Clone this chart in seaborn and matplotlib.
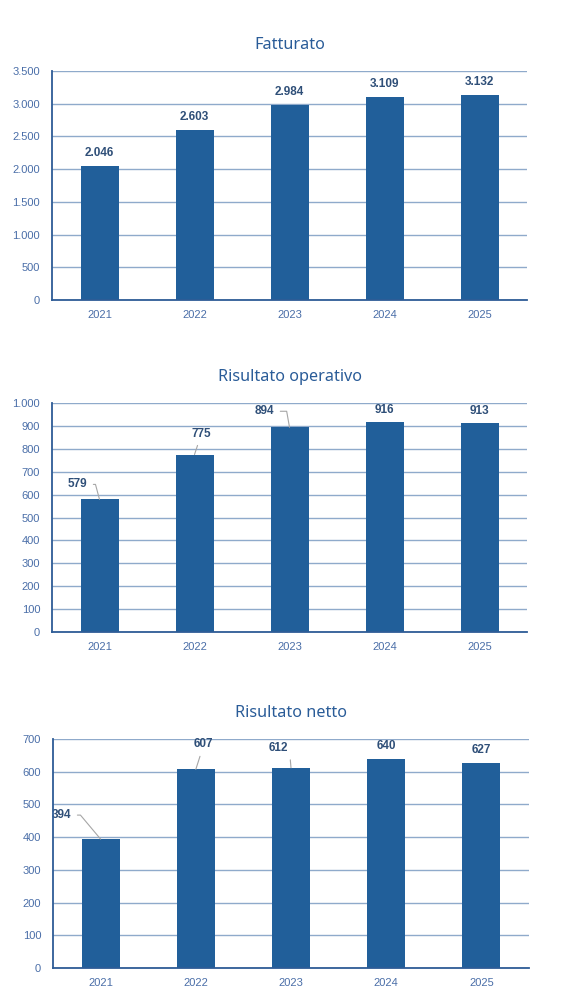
import matplotlib
matplotlib.use("Agg")
import matplotlib.pyplot as plt
import seaborn as sns
from matplotlib.ticker import FuncFormatter

YEARS = ["2021", "2022", "2023", "2024", "2025"]
FATTURATO = [2046, 2603, 2984, 3109, 3132]
RIS_OPERATIVO = [579, 775, 894, 916, 913]
RIS_NETTO = [394, 607, 612, 640, 627]

BAR = "#215F9A"
GRID = "#8FAACB"
SPINE = "#2E5C96"
TICK_TXT = "#4A6EA8"
LABEL_TXT = "#2F4F78"
TITLE_TXT = "#2A5C98"
LEADER = "#A6A6A6"

sns.set_theme(style="white")
plt.rcParams["font.family"] = ["Liberation Sans", "DejaVu Sans"]


def it_fmt(v, _):
    return f"{int(v):,}".replace(",", ".")


def draw(ax, values, title, ymax, step, labels):
    sns.barplot(x=YEARS, y=values, color=BAR, width=0.4, saturation=1,
                linewidth=0, ax=ax, zorder=3)
    ax.set_xlim(-0.5, 4.5)
    ax.set_ylim(0, ymax)
    ax.set_yticks(range(0, ymax + 1, step))
    ax.yaxis.set_major_formatter(FuncFormatter(it_fmt))
    ax.grid(axis="y", color=GRID, linewidth=1, zorder=0)
    ax.set_axisbelow(True)
    for s in ["top", "right"]:
        ax.spines[s].set_visible(False)
    for s in ["left", "bottom"]:
        ax.spines[s].set_color(SPINE)
        ax.spines[s].set_linewidth(1.3)
        ax.spines[s].set_zorder(4)
    ax.tick_params(axis="y", length=0, labelsize=8, labelcolor=TICK_TXT, pad=8.5)
    ax.tick_params(axis="x", which="major", length=0, labelsize=8, labelcolor=TICK_TXT, pad=7)
    ax.set_xticks([i - 0.5 for i in range(6)], minor=True)
    ax.tick_params(axis="x", which="minor", length=4, width=1, color=SPINE, direction="out")
    ax.set_xlabel("")
    ax.set_ylabel("")
    ax.set_title(title, fontsize=11.7, color=TITLE_TXT, family=["Noto Sans", "DejaVu Sans"], pad=16)

    for i, v in enumerate(values):
        txt = f"{v:,}".replace(",", ".")
        dx, dy, conn = labels[i]
        kw = dict(xy=(i, v), xytext=(dx, dy), textcoords="offset pixels",
                  ha="center", va="center", fontsize=8.5, fontweight="bold",
                  color=LABEL_TXT)
        if conn is not None:
            kw["arrowprops"] = dict(arrowstyle="-", color=LEADER, lw=0.8,
                                    shrinkA=2, shrinkB=0, connectionstyle=conn)
        ax.annotate(txt, **kw)


fig = plt.figure(figsize=(5.79, 10.06), dpi=100)

ax1 = fig.add_axes([52 / 579, 1 - 300 / 1006, 475 / 579, 229 / 1006])
draw(ax1, FATTURATO, "Fatturato", 3500, 500,
     [(0, 13, None), (0, 13, None), (0, 13, None), (0, 13, None), (0, 13, None)])

ax2 = fig.add_axes([52 / 579, 1 - 632 / 1006, 475 / 579, 229 / 1006])
draw(ax2, RIS_OPERATIVO, "Risultato operativo", 1000, 100,
     [(-22, 15, "angle,angleA=0,angleB=105,rad=0"),
      (7, 21, "arc3"),
      (-25, 16, "angle,angleA=0,angleB=100,rad=0"),
      (0, 12, None), (0, 12, None)])

ax3 = fig.add_axes([53 / 579, 1 - 968 / 1006, 476 / 579, 229 / 1006])
draw(ax3, RIS_NETTO, "Risultato netto", 700, 100,
     [(-39, 24, "angle,angleA=0,angleB=130,rad=0"),
      (8, 25, "arc3"),
      (-13, 20, "angle,angleA=0,angleB=95,rad=0"),
      (0, 13, None), (0, 13, None)])

fig.savefig("out.png", dpi=100)
